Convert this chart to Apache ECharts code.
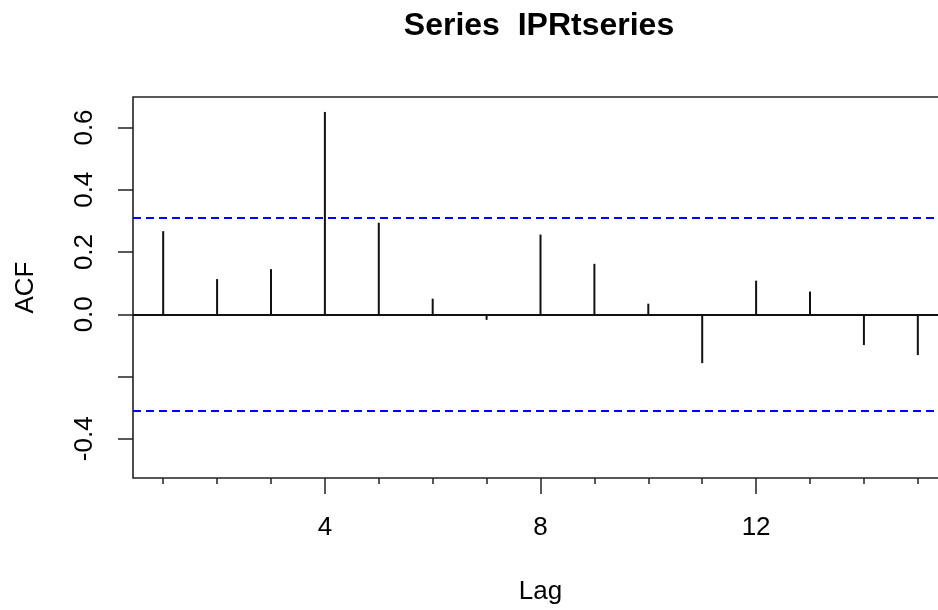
<!DOCTYPE html>
<html><head><meta charset="utf-8">
<script src="https://cdn.jsdelivr.net/npm/echarts@6/dist/echarts.min.js"></script>
<style>html,body{margin:0;padding:0;overflow:hidden;background:#fff}#c{width:948px;height:610px}</style>
</head><body><div id="c"></div>
<script>
const titleText = 'Series  IPRtseries';
const xAxisName = 'Lag';
const yAxisName = 'ACF';
const lags = [1,2,3,4,5,6,7,8,9,10,11,12,13,14,15];
const acfValues = [0.267,0.113,0.145,0.650,0.294,0.050,-0.018,0.256,0.162,0.034,-0.157,0.108,0.073,-0.099,-0.131];
const ciBound = 0.314;
const yTickValues = [-0.4,-0.2,0,0.2,0.4,0.6];
const yLabelValues = [-0.4,0,0.2,0.4,0.6];
const xMajorTicks = [4,8,12];

const FONT = 'Liberation Sans, Arial, sans-serif';
const chart = echarts.init(document.getElementById('c'), null, {renderer:'canvas'});
const xRange = {min:0.44, max:15.56};
chart.setOption({
  animation:false,
  backgroundColor:'#fff',
  title:{text:titleText, left:534, top:5, textAlign:'center',
    textStyle:{fontFamily:FONT, fontSize:32, fontWeight:'bold', color:'#000'}},
  grid:{left:133, top:97, right:0, bottom:131, show:true, borderColor:'#222', borderWidth:1.6, backgroundColor:'transparent'},
  xAxis:[
    {type:'value', ...xRange, position:'bottom',
     axisLine:{show:false, onZero:false}, splitLine:{show:false},
     axisTick:{show:true, customValues:lags, length:6, lineStyle:{color:'#222', width:1.5}},
     axisLabel:{show:false},
     name:xAxisName, nameLocation:'middle', nameGap:101,
     nameTextStyle:{fontFamily:FONT, fontSize:26, color:'#000'}},
    {type:'value', ...xRange, position:'bottom',
     axisLine:{show:false, onZero:false}, splitLine:{show:false},
     axisTick:{show:true, customValues:xMajorTicks, length:16, lineStyle:{color:'#222', width:1.5}},
     axisLabel:{show:true, customValues:xMajorTicks, margin:37, fontFamily:FONT, fontSize:26, color:'#000'}}
  ],
  yAxis:{type:'value', min:-0.526, max:0.698,
    axisLine:{show:false, onZero:false}, splitLine:{show:false},
    axisTick:{show:true, customValues:yTickValues, length:15, lineStyle:{color:'#222', width:1.5}},
    axisLabel:{show:true, customValues:yLabelValues, rotate:90, margin:35, fontFamily:FONT, fontSize:26, color:'#000',
      formatter:v=>v.toFixed(1)},
    name:yAxisName, nameLocation:'middle', nameGap:94, nameRotate:90,
    nameTextStyle:{fontFamily:FONT, fontSize:26, color:'#000'}},
  series:[
    {type:'bar', xAxisIndex:0, data:lags.map((l,i)=>[l, acfValues[i]]), barWidth:2,
     itemStyle:{color:'#111'}, silent:true,
     markLine:{silent:true, symbol:'none', label:{show:false},
       lineStyle:{color:'#0000ff', type:[8,5], width:2},
       data:[{yAxis:ciBound},{yAxis:-ciBound}]}},
    {type:'line', xAxisIndex:0, data:[], silent:true,
     markLine:{silent:true, symbol:'none', label:{show:false},
       lineStyle:{color:'#111', type:'solid', width:1.8},
       data:[{yAxis:0}]}}
  ]
});
</script></body></html>
